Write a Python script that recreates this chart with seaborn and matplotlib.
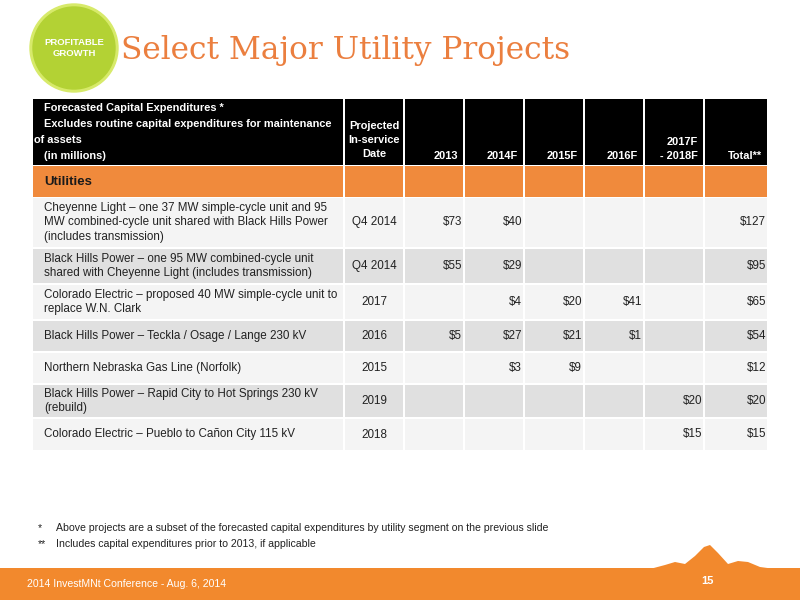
import matplotlib.pyplot as plt
import matplotlib.patches as mpatches
import numpy as np
import seaborn as sns

sns.set_theme(style="white")
plt.rcParams["font.family"] = ["Liberation Sans Narrow", "Liberation Sans", "DejaVu Sans"]

ORANGE = "#f08a3c"
TITLE_ORANGE = "#eb7f3f"

projects = [
    "Cheyenne Light \u2013 one 37 MW simple-cycle unit and 95\nMW combined-cycle unit shared with Black Hills Power\n(includes transmission)",
    "Black Hills Power \u2013 one 95 MW combined-cycle unit\nshared with Cheyenne Light (includes transmission)",
    "Colorado Electric \u2013 proposed 40 MW simple-cycle unit to\nreplace W.N. Clark",
    "Black Hills Power \u2013 Teckla / Osage / Lange 230 kV",
    "Northern Nebraska Gas Line (Norfolk)",
    "Black Hills Power \u2013 Rapid City to Hot Springs 230 kV\n(rebuild)",
    "Colorado Electric \u2013 Pueblo to Ca\u00f1on City 115 kV",
]
dates = ["Q4 2014", "Q4 2014", "2017", "2016", "2015", "2019", "2018"]
capex_2013 = ["$73", "$55", "", "$5", "", "", ""]
capex_2014 = ["$40", "$29", "$4", "$27", "$3", "", ""]
capex_2015 = ["", "", "$20", "$21", "$9", "", ""]
capex_2016 = ["", "", "$41", "$1", "", "", ""]
capex_2017_18 = ["", "", "", "", "", "$20", "$15"]
totals = ["$127", "$95", "$65", "$54", "$12", "$20", "$15"]
year_headers = ["2013", "2014F", "2015F", "2016F", "2017F\n- 2018F", "Total**"]

col_x = [32, 344, 404, 464, 524, 584, 644, 704, 768]
row_y = [197, 248, 284, 320, 352, 384, 418, 451]
head_top, head_bot, util_bot = 99, 165, 197

fig = plt.figure(figsize=(8, 6), dpi=100)
ax = fig.add_axes([0, 0, 1, 1])
ax.set_xlim(0, 800)
ax.set_ylim(600, 0)
ax.axis("off")

# logo and title
ax.add_patch(mpatches.Circle((74, 48), 44, color="#d7ea6a"))
ax.add_patch(mpatches.Circle((74, 48), 41, color="#b3d234"))
ax.text(74, 48, "PROFITABLE\nGROWTH", color="white", ha="center", va="center",
        fontsize=6.8, fontweight="bold", linespacing=1.3)
ax.text(121, 50, "Select Major Utility Projects", color=TITLE_ORANGE, fontsize=22.5,
        family=["DejaVu Serif"], ha="left", va="center")

gap = 1.2
for i in range(len(col_x) - 1):
    x0, x1 = col_x[i], col_x[i + 1]
    ax.add_patch(mpatches.Rectangle((x0 + gap / 2, head_top), x1 - x0 - gap, head_bot - head_top, color="black", lw=0))
    ax.add_patch(mpatches.Rectangle((x0 + gap / 2, head_bot + gap), x1 - x0 - gap, util_bot - head_bot - gap, color=ORANGE, lw=0))
    for r in range(len(projects)):
        shade = "#f4f4f4" if r % 2 == 0 else "#e0e0e0"
        ax.add_patch(mpatches.Rectangle((x0 + gap / 2, row_y[r] + gap / 2), x1 - x0 - gap, row_y[r + 1] - row_y[r] - gap, color=shade, lw=0))

hdr = dict(color="white", fontsize=7.9, fontweight="bold")
ax.text(44, 108, "Forecasted Capital Expenditures *", va="center", **hdr)
ax.text(44, 124, "Excludes routine capital expenditures for maintenance", va="center", **hdr)
ax.text(34, 140, "of assets", va="center", **hdr)
ax.text(44, 156, "(in millions)", va="center", **hdr)
ax.text(374, 140, "Projected\nIn-service\nDate", ha="center", va="center", linespacing=1.5, **hdr)
for i, h in enumerate(year_headers):
    x1 = col_x[i + 3] - 6
    ax.text(x1, 161, h, ha="right", va="bottom", linespacing=1.55, **hdr)
ax.text(44, 182, "Utilities", fontsize=9.5, fontweight="bold", color="#1a1a1a", va="center")

cols = [capex_2013, capex_2014, capex_2015, capex_2016, capex_2017_18, totals]
body = dict(fontsize=8.4, color="#222222", va="center")
for r in range(len(projects)):
    yc = (row_y[r] + row_y[r + 1]) / 2
    ax.text(44, yc, projects[r], ha="left", linespacing=1.32, **body)
    ax.text(374, yc, dates[r], ha="center", **body)
    for i, c in enumerate(cols):
        if c[r]:
            ax.text(col_x[i + 3] - 2, yc, c[r], ha="right", **body)

# footnotes
note = dict(fontsize=7.6, color="#222222", va="center")
ax.text(38, 528, "*", **note)
ax.text(56, 528, "Above projects are a subset of the forecasted capital expenditures by utility segment on the previous slide", **note)
ax.text(38, 544, "**", **note)
ax.text(56, 544, "Includes capital expenditures prior to 2013, if applicable", **note)

# footer with mountain
mx = [650, 665, 675, 685, 695, 704, 710, 718, 728, 738, 748, 760, 775, 790, 800, 800, 650]
my = [569, 565, 562, 564, 556, 547, 545, 553, 564, 561, 562, 567, 569, 569, 569, 600, 600]
ax.add_patch(mpatches.Rectangle((0, 568), 800, 32, color="#f2892d", lw=0))
ax.add_patch(mpatches.Polygon(np.column_stack([mx, my]), color="#f2892d", lw=0))
ax.text(27, 584, "2014 InvestMNt Conference - Aug. 6, 2014", color="white", fontsize=7.6, va="center")
ax.text(707, 581, "15", color="white", fontsize=8, fontweight="bold", ha="center", va="center")

fig.savefig("out.png", dpi=100)
